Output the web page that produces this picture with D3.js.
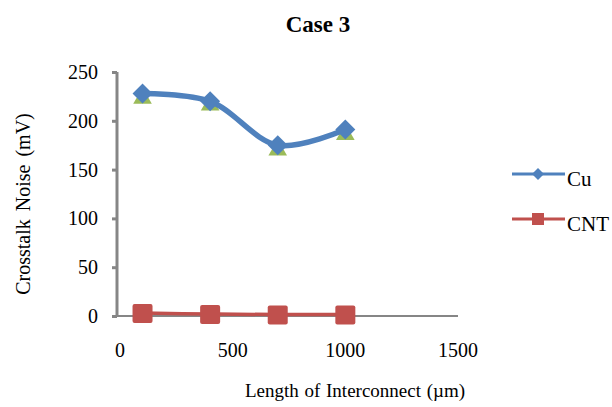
<!DOCTYPE html>
<html>
<head>
<meta charset="utf-8">
<script src="https://cdn.jsdelivr.net/npm/d3@7"></script>
<style>
  body { margin: 0; background: #fff; }
  svg text { font-family: "Liberation Serif", "Times New Roman", serif; fill: #000; }
</style>
</head>
<body>
<div id="chart"></div>
<script>
// Interconnect lengths (um)
const lengths = [100, 400, 700, 1000];
// Crosstalk noise (mV)
const cuValues = [228, 220, 175, 191];
const cntValues = [3, 2, 1.5, 1.5];
// third series shown only as markers behind Cu (not in legend)
const hiddenValues = [225, 218, 172, 188];
const xTicks = [0, 500, 1000, 1500];
const yTicks = [0, 50, 100, 150, 200, 250];

const serif = "Liberation Serif, Times New Roman, serif";

const svg = d3.select("#chart").append("svg")
  .attr("width", 612)
  .attr("height", 407);

// scales
let xScale = d3.scaleLinear().domain([0, 1500]).range([120, 458]);
let yScale = d3.scaleLinear().domain([0, 250]).range([316, 72]);

// title
svg.append("text")
  .attr("x", 318).attr("y", 32)
  .attr("text-anchor", "middle")
  .attr("font-family", serif)
  .style("font-size", "23px")
  .style("font-weight", "bold")
  .text("Case 3");

// y axis
let yAxis = svg.append("g")
  .attr("transform", "translate(117,0)")
  .call(d3.axisLeft(yScale).tickValues(yTicks).tickSize(5).tickPadding(14));
yAxis.select(".domain").attr("d", `M0,${yScale(250)}V${yScale(0)}`)
  .attr("stroke", "#868686").attr("stroke-width", 3);
yAxis.selectAll(".tick line").attr("stroke", "#868686").attr("stroke-width", 3);
yAxis.selectAll(".tick text")
  .attr("font-family", serif)
  .style("font-size", "20px");

// x axis (line only, labels lower)
svg.append("line")
  .attr("x1", 113).attr("x2", 458)
  .attr("y1", yScale(0)).attr("y2", yScale(0))
  .attr("stroke", "#868686").attr("stroke-width", 2);
svg.append("g").selectAll("text")
  .data(xTicks)
  .join("text")
  .attr("x", d => xScale(d))
  .attr("y", 357)
  .attr("text-anchor", "middle")
  .attr("font-family", serif)
  .style("font-size", "20px")
  .text(d => d);

// axis labels
svg.append("text")
  .attr("x", 355).attr("y", 397)
  .attr("text-anchor", "middle")
  .attr("font-family", serif)
  .style("font-size", "19px")
  .style("word-spacing", "1px")
  .text("Length of Interconnect (\u00b5m)");
svg.append("text")
  .attr("transform", "translate(30,204) rotate(-90)")
  .attr("text-anchor", "middle")
  .attr("font-family", serif)
  .style("font-size", "20px")
  .style("word-spacing", "3px")
  .text("Crosstalk Noise (mV)");

let line = d3.line()
  .x((d, i) => xScale(lengths[i]))
  .y(d => yScale(d))
  .curve(d3.curveCatmullRom.alpha(0.5));

// hidden-series triangles
svg.append("g").selectAll("path")
  .data(hiddenValues)
  .join("path")
  .attr("d", d3.symbol().type(d3.symbolTriangle).size(150))
  .attr("transform", (d, i) => `translate(${xScale(lengths[i])},${yScale(d) + 2})`)
  .attr("fill", "#9BBB59");

// CNT
svg.append("path")
  .attr("d", line(cntValues))
  .attr("fill", "none")
  .attr("stroke", "#C0504D")
  .attr("stroke-width", 3.5);
svg.append("g").selectAll("rect")
  .data(cntValues)
  .join("rect")
  .attr("x", (d, i) => xScale(lengths[i]) - 10)
  .attr("y", d => yScale(d) - 9)
  .attr("width", 20).attr("height", 19)
  .attr("rx", 2)
  .attr("fill", "#C0504D");

// Cu
svg.append("path")
  .attr("d", line(cuValues))
  .attr("fill", "none")
  .attr("stroke", "#4F81BD")
  .attr("stroke-width", 5.5);
svg.append("g").selectAll("path")
  .data(cuValues)
  .join("path")
  .attr("d", "M0,-10L10,0L0,10L-10,0Z")
  .attr("transform", (d, i) => `translate(${xScale(lengths[i])},${yScale(d)})`)
  .attr("fill", "#4F81BD");

// legend
const legendItems = [
  {name: "Cu", color: "#4F81BD", shape: "diamond", y: 174},
  {name: "CNT", color: "#C0504D", shape: "square", y: 219}
];
let legend = svg.append("g");
legendItems.forEach(item => {
  legend.append("line")
    .attr("x1", 512).attr("x2", 565)
    .attr("y1", item.y).attr("y2", item.y)
    .attr("stroke", item.color).attr("stroke-width", 3);
  if (item.shape === "diamond") {
    legend.append("path")
      .attr("d", "M0,-6L6,0L0,6L-6,0Z")
      .attr("transform", `translate(538,${item.y})`)
      .attr("fill", item.color);
  } else {
    legend.append("rect")
      .attr("x", 532).attr("y", item.y - 6)
      .attr("width", 12).attr("height", 12)
      .attr("fill", item.color);
  }
  legend.append("text")
    .attr("x", 567).attr("y", item.y + 12)
    .attr("font-family", serif)
    .style("font-size", "21px")
    .text(item.name);
});
</script>
</body>
</html>
